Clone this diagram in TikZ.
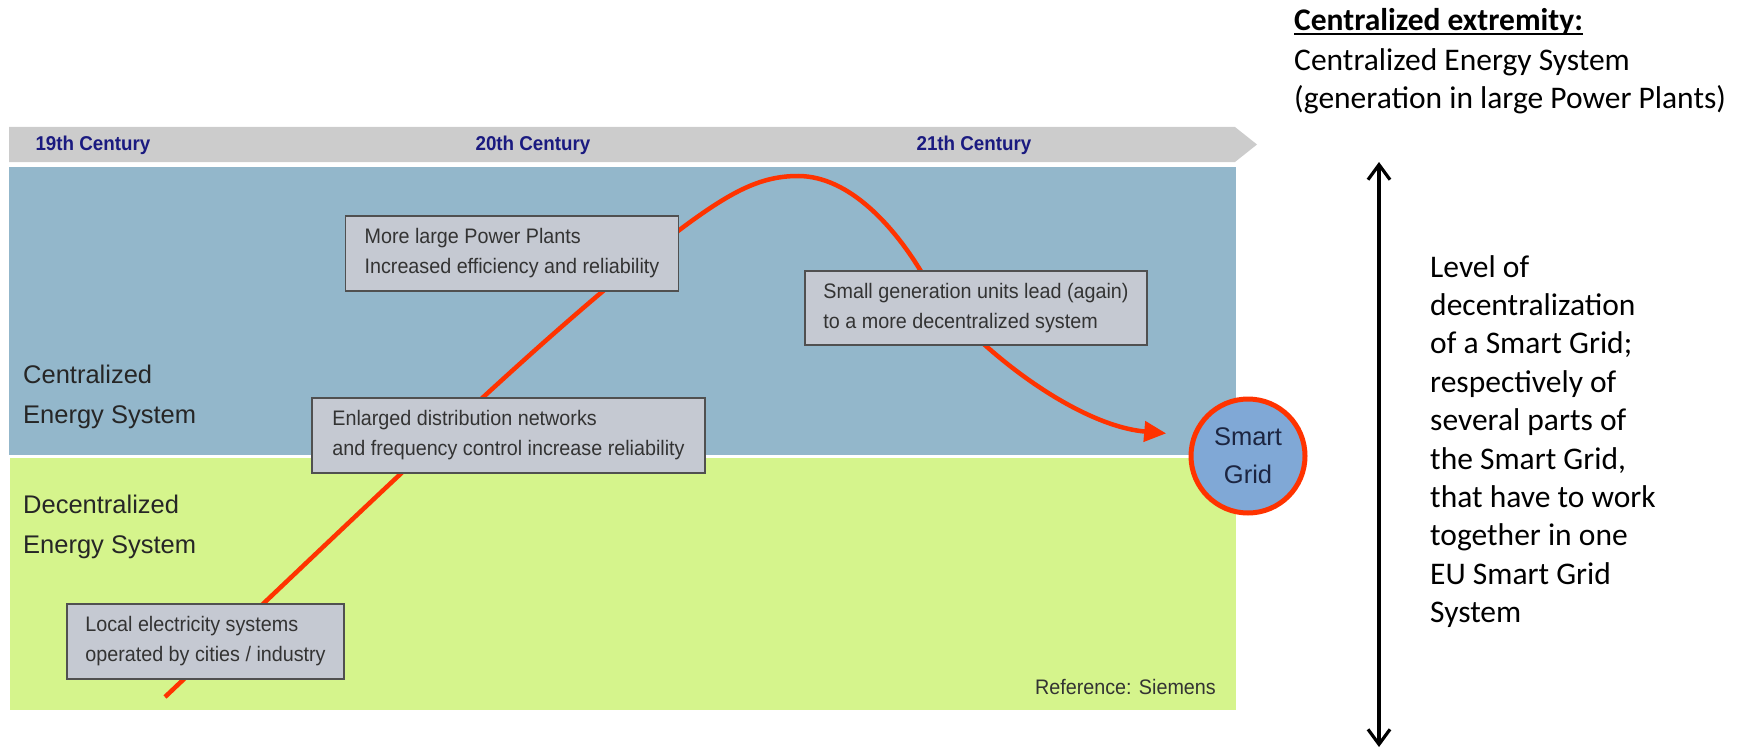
\documentclass[tikz,border=0pt]{standalone}
\usepackage{fontspec}
\usepackage{tikz}
\usetikzlibrary{arrows.meta}
\usetikzlibrary{positioning}

\newfontfamily\boxfont[FakeStretch=0.94]{Liberation Sans}
\newfontfamily\plainfont{Liberation Sans}
\newfontfamily\notefont{Carlito}

\definecolor{skyband}{HTML}{93B7CB}
\definecolor{limeband}{HTML}{D5F48C}
\definecolor{bannergrey}{HTML}{CCCCCC}
\definecolor{boxgrey}{HTML}{C5C9D2}
\definecolor{boxline}{HTML}{505050}
\definecolor{curvered}{HTML}{FF3300}
\definecolor{gridblue}{HTML}{80A8D6}
\definecolor{centuryblue}{HTML}{1A1A80}
\definecolor{inktext}{HTML}{333333}
\definecolor{gridtext}{HTML}{1C2541}

\tikzstyle{info_box} = [
    rectangle,
    draw=boxline,
    fill=boxgrey,
    line width=1.8pt,
    align=left,
    text=inktext,
    inner sep=0pt,
    font=\boxfont\fontsize{21}{30}\selectfont
]
\tikzstyle{century} = [
    text=centuryblue,
    inner sep=0pt,
    font=\boxfont\bfseries\fontsize{20}{24}\selectfont
]
\tikzstyle{band_label} = [
    anchor=north west,
    align=left,
    inner sep=0pt,
    text=black!85,
    font=\plainfont\fontsize{25.5}{40}\selectfont
]
\tikzstyle{grid_node} = [
    circle,
    draw=curvered,
    fill=gridblue,
    line width=5pt,
    minimum size=114pt,
    align=center,
    inner sep=0pt,
    text=gridtext,
    font=\plainfont\fontsize{25.5}{38}\selectfont
]
\tikzstyle{note} = [
    anchor=north west,
    align=left,
    inner sep=0pt,
    font=\notefont\fontsize{31.5}{38.4}\selectfont
]
\tikzstyle{growth_curve} = [
    curvered,
    line width=4.5pt,
    -{Triangle[length=22pt,width=20pt]},
    shorten >=26pt
]
\tikzstyle{level_arrow} = [
    line width=3.2pt,
    {Straight Barb[length=15pt,width=22pt]}-{Straight Barb[length=15pt,width=22pt]}
]

\begin{document}
\begin{tikzpicture}[x=1pt, y=-1pt]
\useasboundingbox (0,0) rectangle (1750,749);

% bands and time line
\fill[skyband] (9,167) rectangle (1236,455);
\fill[limeband] (10,458) rectangle (1236,710);
\fill[bannergrey] (9,127) -- (1235,127) -- (1257,144.5) -- (1235,162) -- (9,162) -- cycle;

\node[century] (c19) at (93,145) {19th Century};
\node[century] (c20) at (533,145) {20th Century};
\node[century] (c21) at (974,145) {21th Century};

\node[band_label] (central) at (23,365) {Centralized\\Energy System};
\node[band_label] (decentral) at (23,495) {Decentralized\\Energy System};

\node[grid_node] (grid) at (1248,456) {Smart\\Grid};

% the curve runs behind the boxes
\coordinate (curve_start) at (165,697);
\draw[growth_curve] (curve_start)
    .. controls (420,455) and (560,320) .. (678,231)
    .. controls (730,192) and (760,176) .. (798,176)
    .. controls (850,176) and (895,228) .. (922,273)
    .. controls (959,335) and (1070,425) .. (grid.160);

\node[info_box, minimum width=333pt, minimum height=75pt] (plants) at (512,253.5)
    {More large Power Plants\\Increased efficiency and reliability};
\node[info_box, minimum width=342pt, minimum height=74pt] (smallunits) at (976,308)
    {Small generation units lead (again)\\to a more decentralized  system};
\node[info_box, minimum width=393pt, minimum height=75pt] (networks) at (508.5,435.5)
    {Enlarged distribution networks\\and frequency control increase reliability};
\node[info_box, minimum width=277pt, minimum height=75pt] (local) at (205.5,641.5)
    {Local electricity systems\\operated by cities / industry};

\node[anchor=east, inner sep=0pt, text=inktext, font=\boxfont\fontsize{21}{25}\selectfont]
    (siemens) at (1216,687) {Reference: Siemens};

% right hand side
\node[anchor=base west, inner sep=0pt, font=\notefont\bfseries\fontsize{31.5}{38.4}\selectfont]
    (extremity_head) at (1294,31) {Centralized extremity:};
\draw[line width=1.6pt] ([yshift=-3pt]extremity_head.base west) -- ([yshift=-3pt]extremity_head.base east);
\node[note] (extremity_text) at (1294,48)
    {Centralized Energy System\\(generation in large Power Plants)};

\coordinate (scale_top) at (1379,162);
\coordinate (scale_bot) at (1379,747);
\draw[level_arrow] (scale_bot) -- (scale_top);

\node[note] (level_text) at (1430,255)
    {Level of\\decentralization\\of a Smart Grid;\\respectively of\\several parts of\\the Smart Grid,\\that have to work\\together in one\\EU Smart Grid\\System};
\end{tikzpicture}
\end{document}
